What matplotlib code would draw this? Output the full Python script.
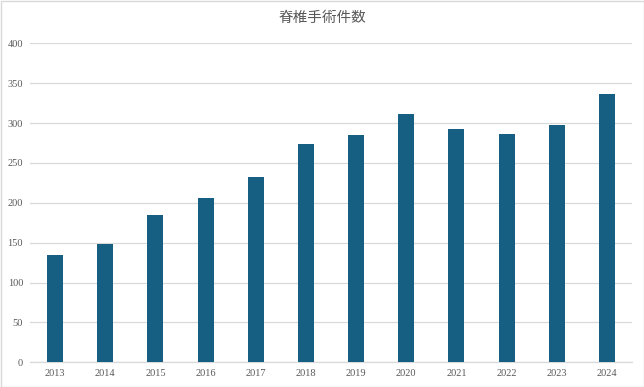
import matplotlib
matplotlib.use("Agg")
import matplotlib.pyplot as plt
from matplotlib.patches import Rectangle

# 年ごとの手術件数
years = ["2013", "2014", "2015", "2016", "2017", "2018",
         "2019", "2020", "2021", "2022", "2023", "2024"]
counts = [134, 148, 185, 206, 232, 274, 285, 311, 293, 286, 298, 337]
yticks = [0, 50, 100, 150, 200, 250, 300, 350, 400]

bar_color = "#165f82"
text_color = "#595959"
grid_color = "#d9d9d9"

fig = plt.figure(figsize=(6.44, 3.87), dpi=100)
ax = fig.add_axes((30 / 644, 1 - 362.3 / 387, 602 / 644, (362.3 - 43.4) / 387))

x = list(range(len(years)))
ax.bar(x, counts, width=0.32, color=bar_color, zorder=3)

ax.set_xlim(-0.5, len(years) - 0.5)
ax.set_ylim(0, 400)
ax.set_yticks(yticks)
ax.set_xticks(x)
ax.set_xticklabels(years)
ax.grid(axis="y", color=grid_color, linewidth=0.9, zorder=0)
ax.tick_params(length=0, labelsize=7.5, colors=text_color, pad=5)
for lbl in ax.get_xticklabels() + ax.get_yticklabels():
    lbl.set_family("Liberation Serif")
for side in ["top", "right", "left"]:
    ax.spines[side].set_visible(False)
ax.spines["bottom"].set_color(grid_color)
ax.spines["bottom"].set_linewidth(0.9)

fig.text(0.5, 1 - 18 / 387, "脊椎手術件数", ha="center", va="center",
         fontsize=10.5, color=text_color,
         family=["Noto Sans CJK JP", "DejaVu Sans"])

# 外枠
fig.patches.append(Rectangle((0.5 / 644, 0.5 / 387), 643 / 644, 386 / 387,
                             transform=fig.transFigure, fill=False,
                             edgecolor=grid_color, linewidth=1))

fig.savefig("out.png", dpi=100)
